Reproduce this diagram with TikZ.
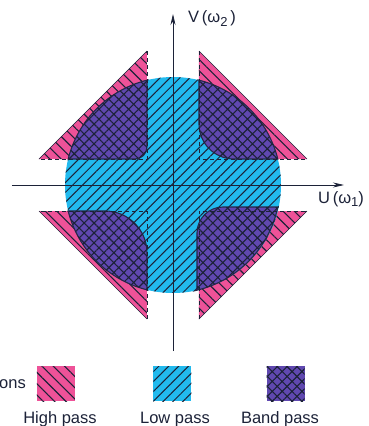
\documentclass[tikz,border=0pt]{standalone}
\usepackage{fontspec}
\setmainfont{Liberation Sans}
\usetikzlibrary{patterns.meta,arrows.meta}
\definecolor{hpink}{RGB}{238,82,152}
\definecolor{lblue}{RGB}{34,186,238}
\definecolor{bpurp}{RGB}{96,72,176}
\definecolor{ink}{RGB}{28,34,56}
\tikzset{
  highpass/.style={fill=hpink, postaction={pattern={Lines[angle=-45,distance=8pt,line width=1.1pt]}, pattern color=ink}},
  lowpass/.style={fill=lblue, postaction={pattern={Lines[angle=45,distance=7pt,line width=1pt]}, pattern color=ink}},
  bandpass/.style={fill=bpurp, postaction={pattern={Hatch[angle=45,distance=7pt,line width=1.1pt]}, pattern color=ink}},
  axis/.style={draw=ink, line width=0.8pt, -{Stealth[length=11pt,width=5pt]}},
  leg/.style={draw=ink, line width=0.5pt, dash pattern=on 4pt off 3pt},
  hyp/.style={draw=ink, line width=0.6pt},
  bandedge/.style={draw=ink!85!bpurp, line width=1.1pt},
  lbl/.style={font=\fontsize{16.5}{18}\selectfont, inner sep=0pt, text=ink},
  swatch/.style={minimum width=38pt, minimum height=35pt, inner sep=0pt}
}
\begin{document}
\begin{tikzpicture}[x=1pt,y=1pt]
\useasboundingbox (-173,-241) rectangle (195,185);
% high pass triangles
\path[highpass] (26,134) -- (26,26) -- (134,26) -- cycle;
\path[highpass] (-26,134) -- (-26,26) -- (-134,26) -- cycle;
\path[highpass] (-26,-134) -- (-26,-26) -- (-134,-26) -- cycle;
\path[highpass] (26,-134) -- (26,-26) -- (134,-26) -- cycle;
% low pass circle
\path[lowpass] (0,0) circle[radius=108];
% band pass regions
\path[bandpass, bandedge] (26,104.8) -- (26,61) arc[start angle=180,end angle=270,radius=35] -- (104.8,26) arc[start angle=13.93,end angle=76.07,radius=108] -- cycle;
\path[bandpass, bandedge] (-26,104.8) -- (-26,38) arc[start angle=0,end angle=-90,radius=12] -- (-104.8,26) arc[start angle=166.07,end angle=103.93,radius=108] -- cycle;
\path[bandpass, bandedge] (-26,-104.8) -- (-26,-68) arc[start angle=0,end angle=90,radius=42] -- (-104.8,-26) arc[start angle=193.93,end angle=256.07,radius=108] -- cycle;
\path[bandpass, bandedge] (24,-104.8) -- (24,-48) arc[start angle=180,end angle=90,radius=26] -- (104.8,-22) arc[start angle=-11.7,end angle=-77.2,radius=108] -- cycle;
% triangle outlines
\draw[hyp] (26,134) -- (134,26);
\draw[hyp] (-26,134) -- (-134,26);
\draw[hyp] (-26,-134) -- (-134,-26);
\draw[hyp] (26,-134) -- (134,-26);
\draw[leg] (26,134) -- (26,26) -- (134,26);
\draw[leg] (-26,134) -- (-26,26) -- (-134,26);
\draw[leg] (-26,-134) -- (-26,-26) -- (-134,-26);
\draw[leg] (26,-134) -- (26,-26) -- (134,-26);
% axes
\coordinate (vbot) at (0,-166);
\coordinate (vtop) at (0,171);
\coordinate (hleft) at (-161,0);
\coordinate (hright) at (171,0);
\draw[axis] (vbot) -- (vtop);
\draw[axis] (hleft) -- (hright);
\node[lbl, anchor=base west] (vlab) at (15,162) {V\,(ω\raisebox{-0.45ex}{\fontsize{13}{13}\selectfont 2}\,)};
\node[lbl, anchor=base west] (ulab) at (145,-18) {U\,(ω\raisebox{-0.45ex}{\fontsize{13}{13}\selectfont 1})};
% legend
\node[lbl, anchor=base west] (ons) at (-174,-203) {ons};
\node[swatch, highpass] (hpsw) at (-117,-198.5) {};
\node[swatch, lowpass] (lpsw) at (-0.5,-198.5) {};
\node[swatch, bandpass] (bpsw) at (112.5,-198.5) {};
\node[lbl, anchor=base] (hptext) at (-113,-238) {High pass};
\node[lbl, anchor=base] (lptext) at (2,-238) {Low pass};
\node[lbl, anchor=base] (bptext) at (107,-238) {Band pass};
\end{tikzpicture}
\end{document}
